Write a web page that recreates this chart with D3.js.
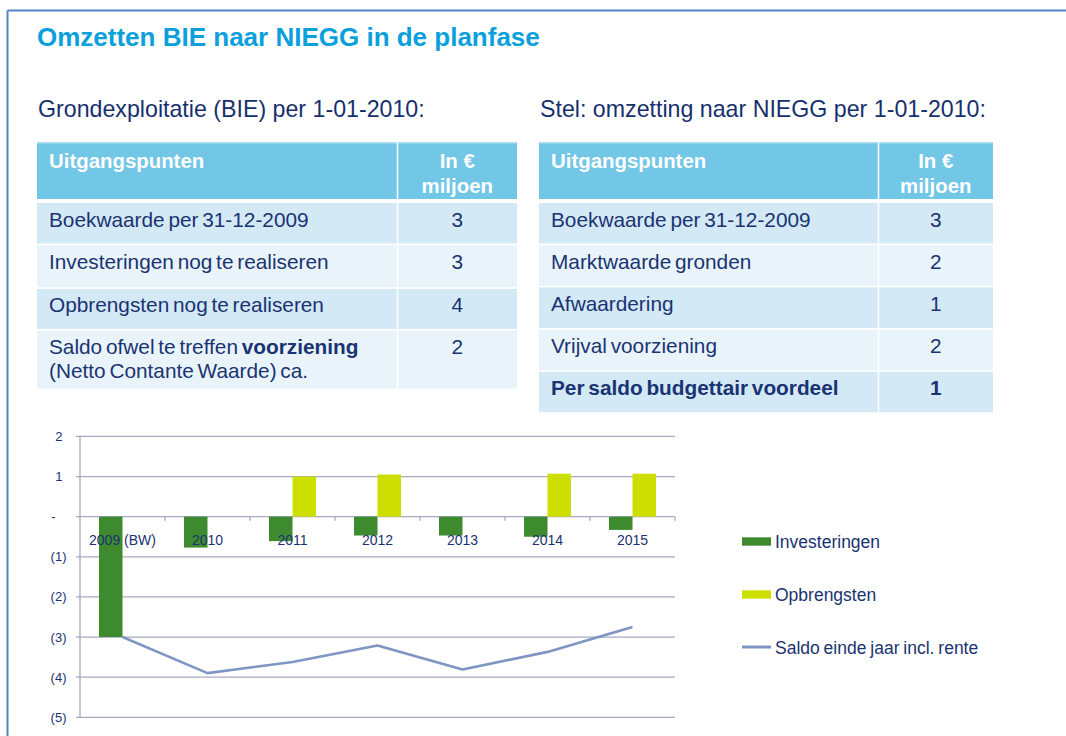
<!DOCTYPE html>
<html>
<head>
<meta charset="utf-8">
<script src="https://cdn.jsdelivr.net/npm/d3@7"></script>
<style>
  html, body { margin: 0; padding: 0; background: #fff; }
  svg { display: block; }
  text { font-family: "Liberation Sans", Arial, sans-serif; }
</style>
</head>
<body>
<svg id="chart" width="1066" height="736"></svg>
<script>
// ---------- data ----------
const titleText = "Omzetten BIE naar NIEGG in de planfase";
const leftSubtitle = "Grondexploitatie (BIE) per 1-01-2010:";
const rightSubtitle = "Stel: omzetting naar NIEGG per 1-01-2010:";
const headerLabel = "Uitgangspunten";
const headerUnit = ["In €", "miljoen"];

const leftLabels = [
  ["Boekwaarde per 31-12-2009"],
  ["Investeringen nog te realiseren"],
  ["Opbrengsten nog te realiseren"],
  ["Saldo ofwel te treffen **voorziening**", "(Netto Contante Waarde) ca."]
];
const leftValues = [3, 3, 4, 2];

const rightLabels = [
  ["Boekwaarde per 31-12-2009"],
  ["Marktwaarde gronden"],
  ["Afwaardering"],
  ["Vrijval voorziening"],
  ["**Per saldo budgettair voordeel**"]
];
const rightValues = [3, 2, 1, 2, 1];
const rightBoldRow = [false, false, false, false, true];

const years = ["2009 (BW)", "2010", "2011", "2012", "2013", "2014", "2015"];
const investeringen = [-3.0, -0.77, -0.61, -0.47, -0.47, -0.50, -0.33];
const opbrengsten   = [0, 0, 1.0, 1.05, 0, 1.07, 1.07];
const saldo         = [-3.0, -3.90, -3.62, -3.21, -3.81, -3.37, -2.75];
const yTicks = [2, 1, 0, -1, -2, -3, -4, -5];
const seriesNames = ["Investeringen", "Opbrengsten", "Saldo einde jaar incl. rente"];

// ---------- styles ----------
const navy = "#1a3372";
const cGreen = "#3e8a2f";
const cYellow = "#cddf00";
const cLine = "#7f95c4";
const cHeader = "#72c6e6";
const cRowA = "#d3e9f5";
const cRowB = "#e9f4fa";

const svg = d3.select("#chart");

// frame
svg.append("line").attr("x1", 7.5).attr("x2", 1066).attr("y1", 10.5).attr("y2", 10.5)
  .attr("stroke", "#5585c5").attr("stroke-width", 2);
svg.append("line").attr("x1", 7.5).attr("x2", 7.5).attr("y1", 10.5).attr("y2", 736)
  .attr("stroke", "#5585c5").attr("stroke-width", 2);

// title
svg.append("text").attr("x", 37).attr("y", 45.5)
  .attr("font-size", 26).attr("font-weight", "bold").attr("fill", "#0aa0dc")
  .text(titleText);

svg.append("text").attr("x", 38).attr("y", 117)
  .attr("font-size", 23.2).attr("fill", "#16306e").text(leftSubtitle);
svg.append("text").attr("x", 540).attr("y", 117)
  .attr("font-size", 23.2).attr("fill", "#16306e").text(rightSubtitle);

// ---------- tables ----------
function addRich(textSel, str, forceBold) {
  const parts = str.split("**");
  parts.forEach((p, i) => {
    if (!p) return;
    textSel.append("tspan").attr("font-weight", (forceBold || i % 2 === 1) ? "bold" : "normal").text(p);
  });
}

function drawTable(x0, x1, xDiv, labels, values, boldRows, rowHeights) {
  const g = svg.append("g");
  const headerTop = 142.5, headerBottom = 199;
  g.append("rect").attr("x", x0).attr("y", headerTop).attr("width", x1 - x0).attr("height", headerBottom - headerTop)
    .attr("fill", cHeader);
  g.append("line").attr("x1", x0).attr("x2", x1).attr("y1", headerTop + 0.5).attr("y2", headerTop + 0.5)
    .attr("stroke", "#a9ddf1").attr("stroke-width", 1);
  g.append("text").attr("x", x0 + 12).attr("y", 167.5).attr("font-size", 20.4).attr("font-weight", "bold")
    .attr("fill", "#fff").text(headerLabel);
  const cx = (xDiv + x1) / 2;
  headerUnit.forEach((t, i) => {
    g.append("text").attr("x", cx).attr("y", 167.5 + i * 25).attr("text-anchor", "middle")
      .attr("font-size", 20.4).attr("font-weight", "bold").attr("fill", "#fff").text(t);
  });
  let top = 203;
  labels.forEach((lines, i) => {
    const h = rowHeights[i];
    g.append("rect").attr("x", x0).attr("y", top).attr("width", x1 - x0).attr("height", h)
      .attr("fill", i % 2 === 0 ? cRowA : cRowB);
    lines.forEach((ln, j) => {
      const t = g.append("text").attr("x", x0 + 12).attr("y", top + 23.5 + j * 24)
        .attr("font-size", 20.8).attr("word-spacing", -2).attr("fill", navy);
      addRich(t, ln, boldRows[i]);
    });
    g.append("text").attr("x", cx).attr("y", top + 23.5).attr("text-anchor", "middle")
      .attr("font-size", 20.8).attr("font-weight", boldRows[i] ? "bold" : "normal")
      .attr("fill", navy).text(values[i]);
    top += h + 1.7;
  });
  g.append("line").attr("x1", xDiv).attr("x2", xDiv).attr("y1", headerTop).attr("y2", top)
    .attr("stroke", "#fff").attr("stroke-width", 1.5);
}

drawTable(37, 517, 397.5, leftLabels, leftValues, [false, false, false, false], [40.5, 42, 40, 58]);
drawTable(539, 993, 878.5, rightLabels, rightValues, rightBoldRow, [40.5, 40.5, 40.5, 40.5, 40.5]);

// ---------- chart ----------
const x = d3.scaleBand().domain(years).range([80, 675]).paddingInner(0).paddingOuter(0);
const y = d3.scaleLinear().domain([-5, 2]).range([717.3, 436.4]);
const bw = x.bandwidth();
const barW = 23.5;

const chart = svg.append("g");

// gridlines
chart.append("g").selectAll("line").data(yTicks).join("line")
  .attr("x1", 76).attr("x2", 675)
  .attr("y1", d => y(d)).attr("y2", d => y(d))
  .attr("stroke", "#a7aabf").attr("stroke-width", 1.3);

// y axis line
chart.append("line").attr("x1", 80).attr("x2", 80).attr("y1", y(2)).attr("y2", y(-5))
  .attr("stroke", "#a7aabf").attr("stroke-width", 1.3);

// category ticks on zero line
chart.append("g").selectAll("line").data(years.slice(1).concat(["__end"])).join("line")
  .attr("x1", (d, i) => 80 + bw * (i + 1)).attr("x2", (d, i) => 80 + bw * (i + 1))
  .attr("y1", y(0)).attr("y2", y(0) + 4)
  .attr("stroke", "#a7aabf").attr("stroke-width", 1.3);

// y tick labels
function fmt(v) { return v === 0 ? "-" : (v < 0 ? "(" + Math.abs(v) + ")" : String(v)); }
chart.append("g").selectAll("text").data(yTicks).join("text")
  .attr("x", d => d > 0 ? 62.5 : (d === 0 ? 55.5 : 66.5))
  .attr("y", d => y(d) + 4.5)
  .attr("text-anchor", "end").attr("font-size", 13).attr("fill", navy)
  .text(fmt);

// bars
chart.append("g").selectAll("rect").data(years).join("rect")
  .attr("x", d => x(d) + bw / 2 - barW)
  .attr("width", barW)
  .attr("y", (d, i) => y(Math.max(0, investeringen[i])))
  .attr("height", (d, i) => Math.abs(y(investeringen[i]) - y(0)))
  .attr("fill", cGreen);
chart.append("g").selectAll("rect").data(years).join("rect")
  .attr("x", d => x(d) + bw / 2)
  .attr("width", barW)
  .attr("y", (d, i) => y(Math.max(0, opbrengsten[i])))
  .attr("height", (d, i) => Math.abs(y(opbrengsten[i]) - y(0)))
  .attr("fill", cYellow);

// category labels
chart.append("g").selectAll("text").data(years).join("text")
  .attr("x", d => x(d) + bw / 2)
  .attr("y", y(0) + 28)
  .attr("text-anchor", "middle").attr("font-size", 14).attr("fill", navy)
  .text(d => d);

// line
const lineGen = d3.line().x((d, i) => x(years[i]) + bw / 2).y(d => y(d));
chart.append("path").datum(saldo).attr("d", lineGen)
  .attr("fill", "none").attr("stroke", cLine).attr("stroke-width", 2.6).attr("stroke-linejoin", "round");

// legend
const legend = svg.append("g");
const legY = [541.5, 594.5, 647];
seriesNames.forEach((name, i) => {
  if (i < 2) {
    legend.append("rect").attr("x", 742).attr("y", legY[i] - 4.2).attr("width", 29).attr("height", 8.4)
      .attr("fill", i === 0 ? cGreen : cYellow);
  } else {
    legend.append("line").attr("x1", 742).attr("x2", 771).attr("y1", legY[i]).attr("y2", legY[i])
      .attr("stroke", cLine).attr("stroke-width", 3);
  }
  legend.append("text").attr("x", 775).attr("y", legY[i] + 6.5)
    .attr("font-size", 17.5).attr("word-spacing", -1).attr("fill", navy).text(name);
});
</script>
</body>
</html>
